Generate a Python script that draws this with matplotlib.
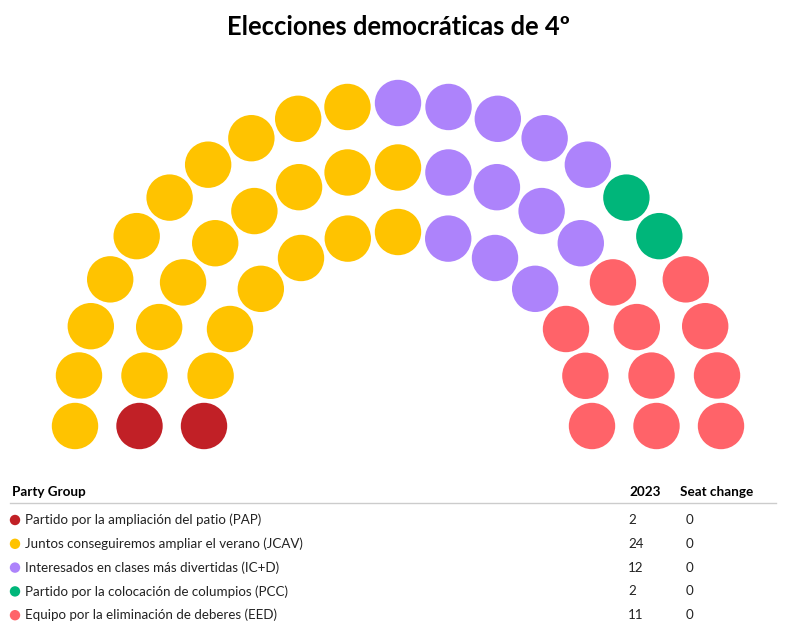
import numpy as np
import matplotlib.pyplot as plt
from matplotlib.patches import Circle

plt.rcParams['font.family'] = ['Lato', 'DejaVu Sans']

title = "Elecciones democráticas de 4º"
parties = ["Partido por la ampliación del patio (PAP)",
           "Juntos conseguiremos ampliar el verano (JCAV)",
           "Interesados en clases más divertidas (IC+D)",
           "Partido por la colocación de columpios (PCC)",
           "Equipo por la eliminación de deberes (EED)"]
seats = [2, 24, 12, 2, 11]
seat_change = [0, 0, 0, 0, 0]
colors = ["#c12026", "#ffc300", "#ad83fb", "#00b67a", "#ff6369"]
row_seats = [13, 17, 21]  # inner to outer

W, H = 796, 628
fig = plt.figure(figsize=(W / 100, H / 100), dpi=100)
ax = fig.add_axes([0, 0, 1, 1])
ax.set_xlim(0, W)
ax.set_ylim(H, 0)
ax.axis('off')

# parliament layout
cx, cy = 398, 426
radii = [194, 258.5, 323]
dot_r = 23.2

positions = []
for ri, (n, r) in enumerate(zip(row_seats, radii)):
    for k in range(n):
        ang = np.pi - k * np.pi / (n - 1)
        positions.append((ang, ri, r))
positions.sort(key=lambda p: (-round(p[0], 6), p[1]))

seat_colors = []
for c, n in zip(colors, seats):
    seat_colors += [c] * n

for (ang, ri, r), c in zip(positions, seat_colors):
    x = cx + r * np.cos(ang)
    y = cy - r * np.sin(ang)
    ax.add_patch(Circle((x, y), dot_r, color=c, lw=0))

ax.text(398, 27, title, ha='center', va='center', fontsize=18.4, fontweight='bold')

# table
ax.text(12, 492, "Party Group", fontsize=9.7, fontweight='bold', va='center')
ax.text(629, 492, "2023", fontsize=9.7, fontweight='bold', va='center')
ax.text(680, 492, "Seat change", fontsize=9.7, fontweight='bold', va='center')
ax.plot([10, 776], [503, 503], color='#cccccc', lw=1)

row_y = 520
for name, s, ch, c in zip(parties, seats, seat_change, colors):
    ax.add_patch(Circle((15, row_y), 5.2, color=c, lw=0))
    ax.text(25, row_y, name, fontsize=9.6, va='center', color='#222222')
    ax.text(628, row_y, str(s), fontsize=9.6, va='center', color='#222222')
    ax.text(686, row_y, str(ch), fontsize=9.6, va='center', color='#222222')
    row_y += 23.8

fig.savefig('out.png', dpi=100)
